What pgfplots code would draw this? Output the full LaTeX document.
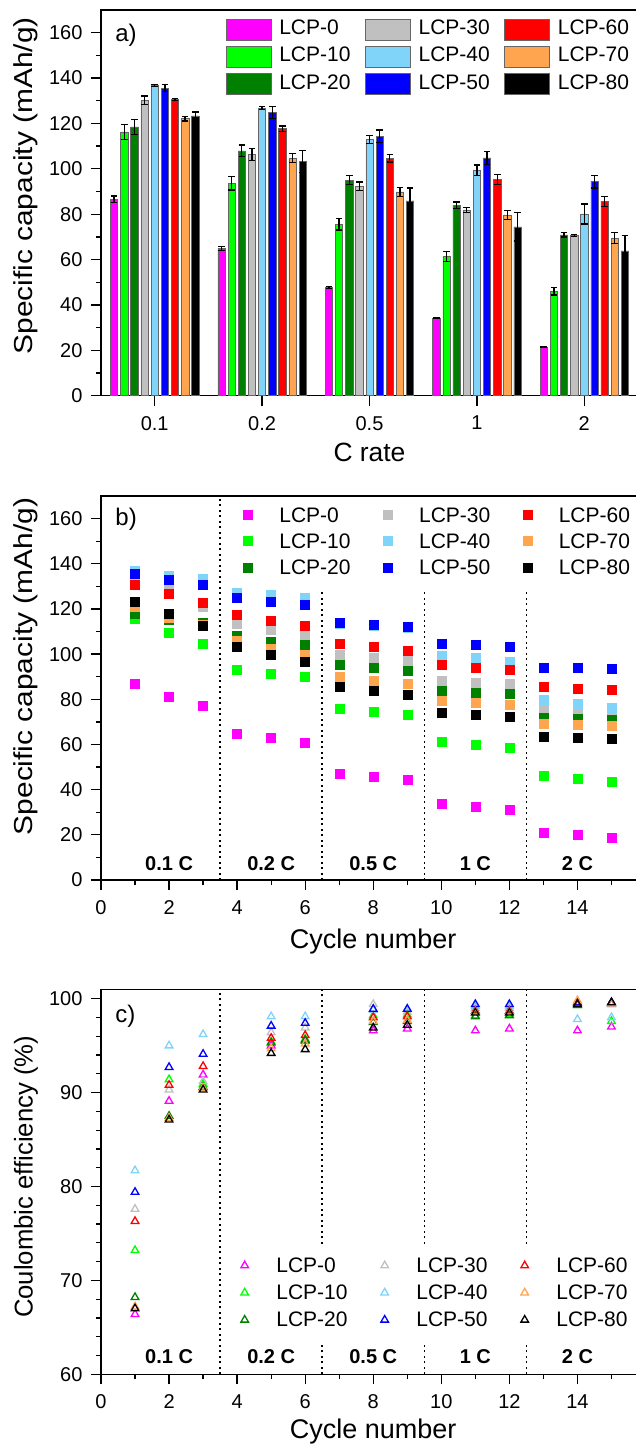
\documentclass[border=0pt]{standalone}
\usepackage{fontspec}
\setmainfont{Liberation Sans}
\newfontfamily\ylabA{Liberation Sans}[FakeStretch=1.15]
\usepackage{pgfplots}
\usepackage{pgfplotstable}
\pgfplotsset{compat=1.18}

\definecolor{lcpA}{HTML}{FF00FF}
\definecolor{lcpB}{HTML}{00FF00}
\definecolor{lcpC}{HTML}{008000}
\definecolor{lcpD}{HTML}{C0C0C0}
\definecolor{lcpE}{HTML}{80D4FA}
\definecolor{lcpF}{HTML}{0000FF}
\definecolor{lcpG}{HTML}{FF0000}
\definecolor{lcpH}{HTML}{FFA550}
\definecolor{lcpI}{HTML}{000000}

\pgfplotstableread{
x c0 e0 c10 e10 c20 e20 c30 e30 c40 e40 c50 e50 c60 e60 c70 e70 c80 e80
1 86.5 1.5 116.3 3.3 118.5 3.3 130.2 1.9 136.7 0.5 135.6 1.5 130.6 0.4 122.1 1.0 123.3 1.8
2 64.9 1.0 93.7 3.0 107.9 2.6 106.3 2.6 126.8 0.6 124.8 2.7 117.7 1.2 104.7 2.0 103.3 4.9
3 47.7 0.5 75.6 2.6 95.0 2.0 92.3 1.9 113.0 1.8 114.4 2.7 104.7 1.7 89.8 2.1 85.9 5.7
4 34.2 0.3 61.4 2.3 84.0 1.4 81.9 1.2 99.4 2.3 104.8 2.9 95.3 2.2 79.6 2.0 74.4 6.2
5 21.4 0.3 46.1 1.7 70.9 1.0 70.6 0.5 80.1 4.4 94.4 2.8 85.6 2.3 69.4 2.4 63.8 6.8
}\rateTab

\pgfplotstableread{
cyc c0 c10 c20 c30 c40 c50 c60 c70 c80
1 86.7 115.9 118.1 133.5 136.9 135.5 130.6 120.8 123.2
2 81.0 109.4 115.3 130.0 134.9 133.0 126.8 116.2 117.8
3 77.0 104.8 113.9 121.0 133.5 130.6 122.8 113.0 112.5
4 64.6 93.3 108.2 113.5 127.0 125.0 117.4 106.0 103.4
5 62.9 91.4 105.7 111.0 126.1 123.2 114.7 102.6 99.8
6 61.0 89.8 104.1 108.5 125.0 121.7 112.6 99.8 96.6
7 47.1 75.7 95.2 99.9 113.5 114.1 104.8 90.1 85.8
8 45.8 74.5 93.9 98.2 112.5 113.1 103.1 88.4 83.8
9 44.3 73.1 92.8 97.0 111.5 112.3 101.4 86.9 82.2
10 33.7 61.1 83.8 88.2 99.2 104.8 95.2 79.5 74.2
11 32.5 60.0 83.1 87.3 98.2 104.2 94.1 78.5 73.1
12 31.2 58.7 82.3 86.8 96.6 103.5 93.0 77.4 72.2
13 21.1 46.1 71.7 76.4 79.9 94.2 85.4 69.2 63.5
14 19.9 44.9 71.4 75.8 78.2 93.9 84.8 68.8 63.0
15 18.9 43.7 71.1 75.5 76.2 93.5 84.2 68.5 62.5
}\cycTab

\pgfplotstableread{
cyc c0 c10 c20 c30 c40 c50 c60 c70 c80
1 66.4 73.2 68.2 77.6 81.7 79.4 76.3 67.2 67.0
2 89.1 91.4 87.5 90.3 95.0 92.7 90.8 87.3 87.1
3 91.9 90.9 90.6 91.2 96.2 94.1 92.8 90.5 90.3
5 95.0 95.4 95.3 96.4 98.1 97.1 95.8 94.7 94.2
6 95.5 95.7 95.6 96.9 98.1 97.4 96.1 95.2 94.6
8 96.6 98.2 97.5 99.4 98.8 98.9 98.0 97.6 96.9
9 96.8 98.3 97.6 98.6 98.9 98.9 98.1 97.7 97.2
11 96.6 98.2 98.1 99.0 99.2 99.4 98.7 98.6 98.5
12 96.8 98.3 98.2 99.0 99.2 99.4 98.7 98.6 98.5
14 96.6 99.3 99.3 99.5 97.8 99.6 99.5 99.8 99.4
15 97.0 97.6 99.4 99.4 98.0 99.6 99.5 99.5 99.6
}\ceTab

\tikzset{rlab/.style={anchor=base, font=\bfseries\fontsize{20}{20}\selectfont}}
\newcommand{\lt}[1]{\raisebox{5pt}{#1}}

\pgfplotsset{
  base/.style={
    scale only axis,
    axis line style={line width=1.5pt},
    tick style={line width=1.3pt, black},
    tick align=outside, tick pos=left,
    major tick length=10pt, minor tick length=5pt,
    /pgf/number format/assume math mode=true,
    tick label style={font=\fontsize{20}{20}\selectfont},
    xticklabel style={yshift=-7pt},
    yticklabel style={xshift=-5pt},
    legend style={draw=none, fill=none, inner sep=0pt, outer sep=0pt,
      font=\fontsize{21}{21}\selectfont, anchor=north west,
      nodes={inner xsep=1pt, inner ysep=1pt}},
    legend columns=3, transpose legend, legend cell align=left,
  },
  barplot/.style={ybar, bar width=0.068, bar shift=0pt, draw=black!60, line width=0.6pt,
    legend image code/.code={\draw[##1, draw=black!60, line width=0.6pt] (0pt,-9.5pt) rectangle (45pt,11.5pt);}},
  sqplot/.style={only marks, mark=square*, mark size=4.5pt, color=#1, mark options={fill=#1, draw=#1},
    legend image code/.code={\path (0pt,-5pt) (16pt,7pt); \draw[mark repeat=2, mark phase=2, ##1] plot coordinates {(0pt,1pt) (8pt,1pt) (16pt,1pt)};}},
  triplot/.style={only marks, mark=triangle, mark size=4.4pt, color=#1, line width=1.3pt, mark options={draw=#1, fill=none},
    legend image code/.code={\path (0pt,-5pt) (16pt,7pt); \draw[mark repeat=2, mark phase=2, ##1] plot coordinates {(0pt,0pt) (8pt,0pt) (16pt,0pt)};}},
  ebar/.style={error bars/.cd, y dir=both, y explicit,
    error bar style={line width=1.3pt, black},
    error mark options={rotate=90, line width=1.3pt, mark size=3.3pt, black}},
  vline/.style={forget plot, black, line width=1.5pt, dash pattern=on 2pt off 3.5pt},
}

\begin{document}
\begin{tikzpicture}
\useasboundingbox (0,0) rectangle (636pt,-1447pt);
\clip (0,0) rectangle (636pt,-1447pt);

% ---------------- panel a ----------------
\begin{axis}[base,
  at={(101pt,-10pt)}, anchor=north west,
  width=537pt, height=385.7pt,
  xmin=0.5, xmax=5.5, ymin=0, ymax=170,
  xtick={1,2,3,4,5}, xticklabels={0.1,0.2,0.5,1,2},
  ytick={0,20,...,160}, minor y tick num=1,
  xlabel={C rate},
  ylabel={Specific capacity (mAh/g)},
  xlabel style={font=\fontsize{26.4}{26}\selectfont, at={(axis description cs:0.5,0)}, anchor=base, yshift=-65.3pt},
  ylabel style={font=\ylabA\fontsize{26}{26}\selectfont, at={(axis description cs:-0.1402,0.544)}, anchor=center},
  legend style={at={(axis description cs:0.2322,0.9777)}, row sep=4pt,
    /tikz/every odd column/.append style={column sep=7pt},
    /tikz/every even column/.append style={column sep=13.5pt}},
]
\addplot[barplot, fill=lcpA, ebar] table[x expr=\thisrow{x}-0.378, y=c0, y error=e0] {\rateTab};
\addplot[barplot, fill=lcpB, ebar] table[x expr=\thisrow{x}-0.2835, y=c10, y error=e10] {\rateTab};
\addplot[barplot, fill=lcpC, ebar] table[x expr=\thisrow{x}-0.189, y=c20, y error=e20] {\rateTab};
\addplot[barplot, fill=lcpD, ebar] table[x expr=\thisrow{x}-0.0945, y=c30, y error=e30] {\rateTab};
\addplot[barplot, fill=lcpE, ebar] table[x expr=\thisrow{x}, y=c40, y error=e40] {\rateTab};
\addplot[barplot, fill=lcpF, ebar] table[x expr=\thisrow{x}+0.0945, y=c50, y error=e50] {\rateTab};
\addplot[barplot, fill=lcpG, ebar] table[x expr=\thisrow{x}+0.189, y=c60, y error=e60] {\rateTab};
\addplot[barplot, fill=lcpH, ebar] table[x expr=\thisrow{x}+0.2835, y=c70, y error=e70] {\rateTab};
\addplot[barplot, fill=lcpI, ebar] table[x expr=\thisrow{x}+0.378, y=c80, y error=e80] {\rateTab};
\legend{\lt{LCP-0},\lt{LCP-10},\lt{LCP-20},\lt{LCP-30},\lt{LCP-40},\lt{LCP-50},\lt{LCP-60},\lt{LCP-70},\lt{LCP-80}}
\node[anchor=base west, font=\fontsize{24}{24}\selectfont] at (rel axis cs:0.02,0.9196) {a)};
\end{axis}

% ---------------- panel b ----------------
\begin{axis}[base,
  at={(101pt,-496pt)}, anchor=north west,
  width=544.5pt, height=384pt,
  xmin=0, xmax=16, ymin=0, ymax=170,
  xtick={0,2,...,14}, minor xtick={1,3,...,15},
  ytick={0,20,...,160}, minor y tick num=1,
  xlabel={Cycle number},
  ylabel={Specific capacity (mAh/g)},
  xlabel style={font=\fontsize{27}{27}\selectfont, at={(axis description cs:0.5,0)}, anchor=base, yshift=-68.3pt},
  ylabel style={font=\ylabA\fontsize{26}{26}\selectfont, at={(axis description cs:-0.1383,0.556)}, anchor=center},
  legend style={at={(axis description cs:0.2547,0.9727)}, row sep=8.2pt,
    /tikz/every odd column/.append style={column sep=22.3pt},
    /tikz/every even column/.append style={column sep=27.8pt}},
]
\addplot[vline] coordinates {(3.5,0) (3.5,170)};
\addplot[vline] coordinates {(6.5,0) (6.5,128.5)};
\addplot[vline] coordinates {(9.5,0) (9.5,128.5)};
\addplot[vline] coordinates {(12.5,0) (12.5,128.5)};
\addplot[sqplot=lcpA] table[x=cyc, y=c0] {\cycTab};
\addplot[sqplot=lcpB] table[x=cyc, y=c10] {\cycTab};
\addplot[sqplot=lcpC] table[x=cyc, y=c20] {\cycTab};
\addplot[sqplot=lcpD] table[x=cyc, y=c30] {\cycTab};
\addplot[sqplot=lcpE] table[x=cyc, y=c40] {\cycTab};
\addplot[sqplot=lcpF] table[x=cyc, y=c50] {\cycTab};
\addplot[sqplot=lcpG] table[x=cyc, y=c60] {\cycTab};
\addplot[sqplot=lcpH] table[x=cyc, y=c70] {\cycTab};
\addplot[sqplot=lcpI] table[x=cyc, y=c80] {\cycTab};
\legend{LCP-0,LCP-10,LCP-20,LCP-30,LCP-40,LCP-50,LCP-60,LCP-70,LCP-80}
\node[anchor=base west, font=\fontsize{24}{24}\selectfont] at (rel axis cs:0.02,0.922) {b)};
\node[rlab] at (axis cs:2,4.4) {0.1 C};
\node[rlab] at (axis cs:5,4.4) {0.2 C};
\node[rlab] at (axis cs:8,4.4) {0.5 C};
\node[rlab] at (axis cs:11,4.4) {1 C};
\node[rlab] at (axis cs:14,4.4) {2 C};
\end{axis}

% ---------------- panel c ----------------
\begin{axis}[base,
  at={(101pt,-989.3pt)}, anchor=north west,
  width=544.5pt, height=385pt,
  xmin=0, xmax=16, ymin=60, ymax=101,
  xtick={0,2,...,14}, minor xtick={1,3,...,15},
  ytick={60,70,...,100}, minor y tick num=4,
  xlabel={Cycle number},
  ylabel={Coulombic efficiency (\%)},
  xlabel style={font=\fontsize{27}{27}\selectfont, at={(axis description cs:0.5,0)}, anchor=base, yshift=-64pt},
  ylabel style={font=\fontsize{25.7}{26}\selectfont, at={(axis description cs:-0.1377,0.513)}, anchor=center},
  legend style={at={(axis description cs:0.248,0.306)}, row sep=9pt,
    /tikz/every odd column/.append style={column sep=22pt},
    /tikz/every even column/.append style={column sep=27.5pt}},
]
\addplot[vline] coordinates {(3.5,60) (3.5,101)};
\addplot[vline] coordinates {(6.5,60) (6.5,63.3)};
\addplot[vline] coordinates {(6.5,73.9) (6.5,101)};
\addplot[vline] coordinates {(9.5,60) (9.5,63.3)};
\addplot[vline] coordinates {(9.5,73.9) (9.5,101)};
\addplot[vline] coordinates {(12.5,60) (12.5,63.3)};
\addplot[vline] coordinates {(12.5,73.9) (12.5,101)};
\addplot[triplot=lcpA] table[x=cyc, y=c0] {\ceTab};
\addplot[triplot=lcpB] table[x=cyc, y=c10] {\ceTab};
\addplot[triplot=lcpC] table[x=cyc, y=c20] {\ceTab};
\addplot[triplot=lcpD] table[x=cyc, y=c30] {\ceTab};
\addplot[triplot=lcpE] table[x=cyc, y=c40] {\ceTab};
\addplot[triplot=lcpF] table[x=cyc, y=c50] {\ceTab};
\addplot[triplot=lcpG] table[x=cyc, y=c60] {\ceTab};
\addplot[triplot=lcpH] table[x=cyc, y=c70] {\ceTab};
\addplot[triplot=lcpI] table[x=cyc, y=c80] {\ceTab};
\legend{LCP-0,LCP-10,LCP-20,LCP-30,LCP-40,LCP-50,LCP-60,LCP-70,LCP-80}
\node[anchor=base west, font=\fontsize{24}{24}\selectfont] at (rel axis cs:0.02,0.9125) {c)};
\node[rlab] at (axis cs:2,61.17) {0.1 C};
\node[rlab] at (axis cs:5,61.17) {0.2 C};
\node[rlab] at (axis cs:8,61.17) {0.5 C};
\node[rlab] at (axis cs:11,61.17) {1 C};
\node[rlab] at (axis cs:14,61.17) {2 C};
\end{axis}
\end{tikzpicture}
\end{document}
